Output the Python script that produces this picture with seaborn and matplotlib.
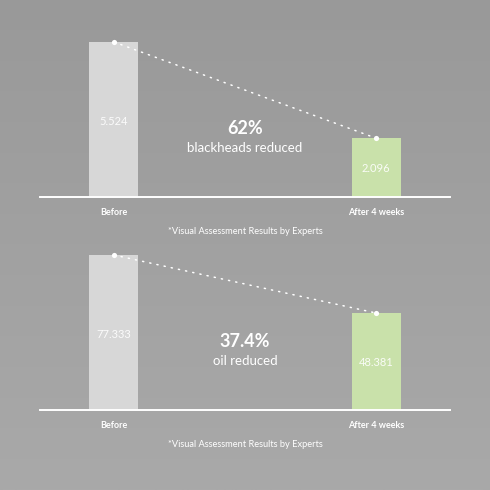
import numpy as np
import matplotlib
matplotlib.use("Agg")
import matplotlib.pyplot as plt
import pandas as pd
import seaborn as sns

# data
categories = ["Before", "After 4 weeks"]
blackheads = [5.524, 2.096]
oil = [77.333, 48.381]
value_labels_top = ["5.524", "2.096"]
value_labels_bottom = ["77.333", "48.381"]
headline_top = ["62%", "blackheads reduced"]
headline_bottom = ["37.4%", "oil reduced"]
footnote = "*Visual Assessment Results by Experts"

bar_colors = ["#d7d7d7", "#c9e1aa"]
text_font = ["Lato", "DejaVu Sans"]

sns.set_theme(style="white")
plt.rcParams["font.family"] = text_font

fig = plt.figure(figsize=(4.9, 4.9), dpi=100)

# soft grey vertical gradient behind everything
bg = fig.add_axes([0, 0, 1, 1], zorder=-1)
grad = np.linspace(0, 1, 256).reshape(-1, 1)
bg.imshow(grad, aspect="auto", cmap=matplotlib.colors.LinearSegmentedColormap.from_list(
    "bg", ["#999999", "#a9a9a9"]), extent=[0, 1, 0, 1], origin="upper")
bg.axis("off")


def panel(rect, values, labels, headline, ymax):
    ax = fig.add_axes(rect)
    ax.patch.set_alpha(0)
    df = pd.DataFrame({"stage": categories, "value": values})
    sns.barplot(data=df, x="stage", y="value", hue="stage", palette=bar_colors,
                width=0.187, legend=False, saturation=1, linewidth=0, ax=ax)
    ax.set_xlim(-0.282, 1.282)
    ax.set_ylim(0, ymax)
    for s in ["top", "right", "left"]:
        ax.spines[s].set_visible(False)
    ax.spines["bottom"].set_color("white")
    ax.spines["bottom"].set_linewidth(1.4)
    ax.spines["bottom"].set_zorder(6)
    ax.set_yticks([])
    ax.set_xlabel("")
    ax.set_ylabel("")
    ax.tick_params(axis="x", length=0, pad=8, labelsize=6.5, labelcolor="white")
    for t in ax.get_xticklabels():
        t.set_fontweight("bold")

    # dotted connector with end dots
    ax.plot([0, 1], values, color="white", lw=1.1, ls=(0, (0.8, 4)),
            dash_capstyle="round", zorder=4)
    ax.scatter([0, 1], values, s=14, color="white", zorder=5, linewidths=0)

    for i, (v, lab) in enumerate(zip(values, labels)):
        ax.text(i, v * 0.49, lab, ha="center", va="center", color="white",
                fontsize=8, alpha=0.9)

    ax.text(0.5, 0.41, headline[0], transform=ax.get_xaxis_transform(),
            ha="center", va="center", color="white", fontsize=13, fontweight="bold")
    ax.text(0.5, 0.295, headline[1], transform=ax.get_xaxis_transform(),
            ha="center", va="center", color="white", fontsize=9.5)

    ax.text(0.5, -0.205, footnote, transform=ax.transAxes, ha="center",
            va="center", color="white", fontsize=6.7)
    return ax


# top panel: baseline at 197px, axes top at 30px
panel([40 / 490, (490 - 197) / 490, 410 / 490, 167 / 490],
      blackheads, value_labels_top, headline_top, 5.524 * 167 / 155)
# bottom panel: baseline at 410px, axes top at 243px
panel([40 / 490, (490 - 410) / 490, 410 / 490, 167 / 490],
      oil, value_labels_bottom, headline_bottom, 77.333 * 167 / 155)

fig.savefig("out.png", dpi=100)
